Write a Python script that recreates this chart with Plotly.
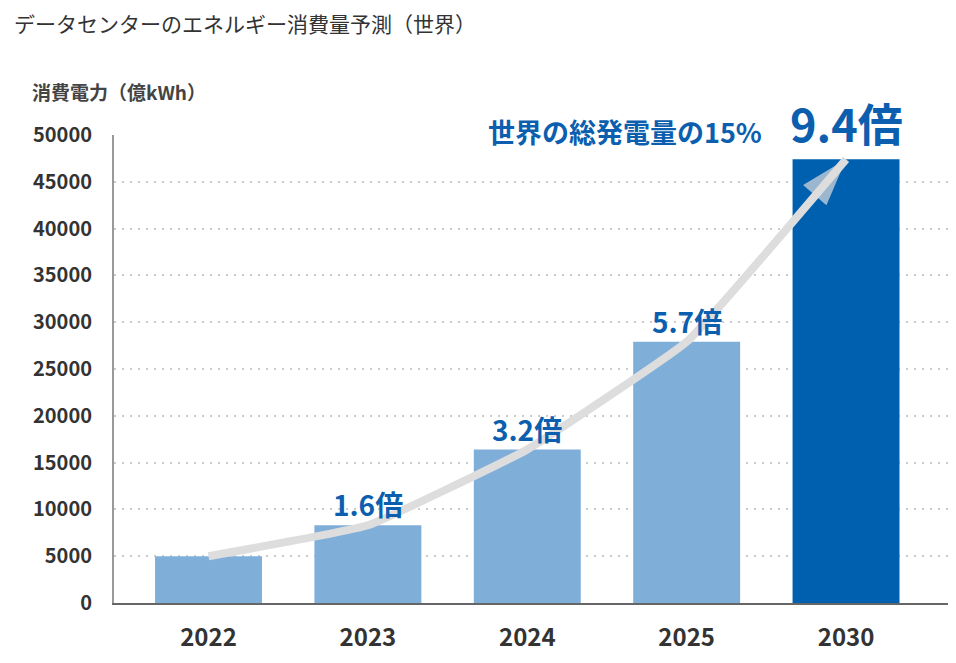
import plotly.graph_objects as go

years = ['2022', '2023', '2024', '2025', '2030']
consumption = [5000, 8300, 16400, 27900, 47400]
ratio_labels = ['', '1.6倍', '3.2倍', '5.7倍', '9.4倍']
y_ticks = list(range(0, 50001, 5000))

bar_colors = ['#7fafd9', '#7fafd9', '#7fafd9', '#7fafd9', '#0060b0']
text_blue = '#0b5fae'
font_jp = 'Noto Sans CJK JP'

fig = go.Figure()

fig.add_trace(go.Bar(
    x=years,
    y=consumption,
    marker=dict(color=bar_colors, line=dict(width=0)),
    hoverinfo='skip'
))

# growth arrow running over the bar tops
fig.add_trace(go.Scatter(
    x=years,
    y=consumption,
    mode='lines+markers',
    line=dict(color='#dddddd', width=8, shape='spline', smoothing=0.3),
    marker=dict(
        symbol=['circle', 'circle', 'circle', 'circle', 'arrow'],
        size=[8, 0, 0, 0, 50],
        color='#dddddd',
        angleref='previous',
        line=dict(width=0)
    ),
    hoverinfo='skip'
))

# ratio labels above bars (category index as x)
for i in range(1, 4):
    fig.add_annotation(
        x=i, y=consumption[i], text=ratio_labels[i], showarrow=False,
        yanchor='middle', yshift=21,
        font=dict(family=font_jp, size=28, color=text_blue, weight='bold')
    )

fig.add_annotation(
    x=4, y=consumption[4], text=ratio_labels[4], showarrow=False,
    yanchor='middle', yshift=37,
    font=dict(family=font_jp, size=45, color=text_blue, weight='bold')
)

fig.add_annotation(
    xref='paper', yref='paper', x=0.778, y=1.0085,
    xanchor='right', yanchor='middle', showarrow=False,
    text='世界の総発電量の15%',
    font=dict(family=font_jp, size=27, color=text_blue, weight='bold')
)

# y axis title
fig.add_annotation(
    xref='paper', yref='paper', x=-0.1006, y=1.092,
    xanchor='left', yanchor='middle', showarrow=False,
    text='消費電力（億kWh）',
    font=dict(family=font_jp, size=19, color='#444444', weight='bold')
)

# chart title, top left
fig.add_annotation(
    xref='paper', yref='paper', x=-0.122, y=1.24,
    xanchor='left', yanchor='middle', showarrow=False,
    text='データセンターのエネルギー消費量予測（世界）',
    font=dict(family=font_jp, size=21, color='#333333')
)

fig.update_layout(
    width=948,
    height=655,
    margin=dict(l=106, r=7, t=127, b=60),
    paper_bgcolor='white',
    plot_bgcolor='white',
    showlegend=False,
    bargap=0.329,
    xaxis=dict(
        type='category',
        range=[-0.593, 4.646],
        showgrid=False,
        showline=True, linecolor='#666666', linewidth=2,
        ticks='', ticklabelstandoff=12,
        tickfont=dict(family=font_jp, size=24, color='#333333', weight='bold')
    ),
    yaxis=dict(
        range=[0, 50000],
        tickvals=y_ticks,
        tickformat='d',
        showgrid=True, gridcolor='#cccccc', gridwidth=2, griddash='2px,6px',
        showline=True, linecolor='#999999', linewidth=2,
        zeroline=False,
        ticks='', ticklabelstandoff=16,
        tickfont=dict(family=font_jp, size=20, color='#333333', weight='bold')
    )
)

fig.write_html('out.html')
